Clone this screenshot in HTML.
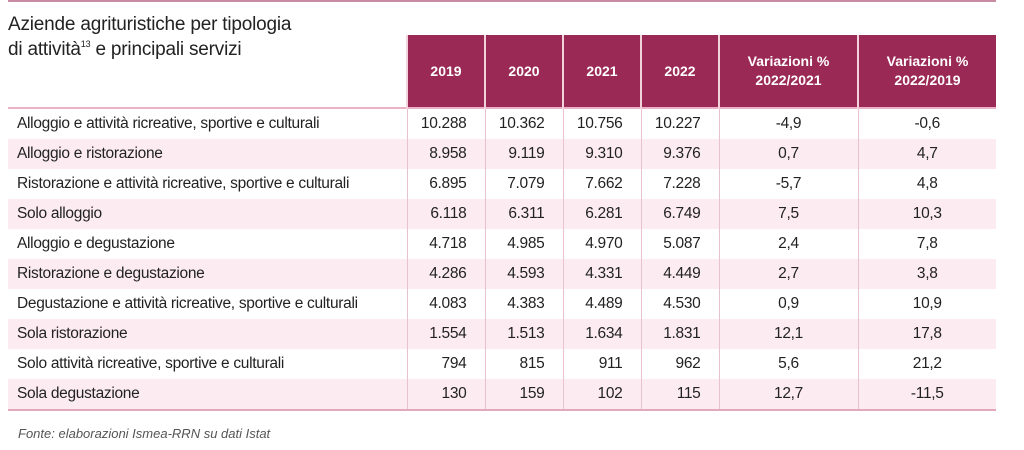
<!DOCTYPE html>
<html><head><meta charset="utf-8"><style>
body{margin:0;width:1024px;height:450px;background:#fff;font-family:"Liberation Sans",sans-serif;color:#222;position:relative;overflow:hidden}
.top{position:absolute;left:8px;top:0;width:988px;height:2px;background:#c98aa3}
.title{position:absolute;left:8px;top:12px;font-size:19px;line-height:25px;color:#222;letter-spacing:-0.2px;z-index:2}
.title sup{font-size:9px;line-height:0;vertical-align:8px}
table{position:absolute;left:8px;top:35px;border-collapse:collapse;table-layout:fixed;z-index:1}
th{background:#9b2955;color:#fff;font-weight:bold;font-size:14px;height:72px;padding:0;border-left:2px solid #f3d2dc;text-align:center;line-height:19px}
th.blank{background:transparent;border:none}
td{height:30px;padding:0;font-size:15.5px;border-left:1.5px solid #e9c2cf;text-align:right;padding-right:18px;letter-spacing:-0.3px}
td:first-child{border-left:none;text-align:left;padding-left:9px;padding-right:0;font-size:15.5px}
td.c{text-align:center;padding-right:0}
tr.s td{background:#fcecf1}
tr.h{border-bottom:2px solid #eab3c5}
tr.last{border-bottom:2px solid #e2a9bb}
.src{position:absolute;left:18px;top:426px;font-size:13px;font-style:italic;color:#555}
</style></head><body>
<div class="top"></div>
<div class="title">Aziende agrituristiche per tipologia<br>di attività<sup>13</sup> e principali servizi</div>
<table>
<colgroup><col style="width:399px"><col style="width:78px"><col style="width:78px"><col style="width:78px"><col style="width:78px"><col style="width:139px"><col style="width:138px"></colgroup>
<tr class="h"><th class="blank"></th><th>2019</th><th>2020</th><th>2021</th><th>2022</th><th>Variazioni %<br>2022/2021</th><th>Variazioni %<br>2022/2019</th></tr>
<tr><td>Alloggio e attività ricreative, sportive e culturali</td><td>10.288</td><td>10.362</td><td>10.756</td><td>10.227</td><td class="c">-4,9</td><td class="c">-0,6</td></tr>
<tr class="s"><td>Alloggio e ristorazione</td><td>8.958</td><td>9.119</td><td>9.310</td><td>9.376</td><td class="c">0,7</td><td class="c">4,7</td></tr>
<tr><td>Ristorazione e attività ricreative, sportive e culturali</td><td>6.895</td><td>7.079</td><td>7.662</td><td>7.228</td><td class="c">-5,7</td><td class="c">4,8</td></tr>
<tr class="s"><td>Solo alloggio</td><td>6.118</td><td>6.311</td><td>6.281</td><td>6.749</td><td class="c">7,5</td><td class="c">10,3</td></tr>
<tr><td>Alloggio e degustazione</td><td>4.718</td><td>4.985</td><td>4.970</td><td>5.087</td><td class="c">2,4</td><td class="c">7,8</td></tr>
<tr class="s"><td>Ristorazione e degustazione</td><td>4.286</td><td>4.593</td><td>4.331</td><td>4.449</td><td class="c">2,7</td><td class="c">3,8</td></tr>
<tr><td>Degustazione e attività ricreative, sportive e culturali</td><td>4.083</td><td>4.383</td><td>4.489</td><td>4.530</td><td class="c">0,9</td><td class="c">10,9</td></tr>
<tr class="s"><td>Sola ristorazione</td><td>1.554</td><td>1.513</td><td>1.634</td><td>1.831</td><td class="c">12,1</td><td class="c">17,8</td></tr>
<tr><td>Solo attività ricreative, sportive e culturali</td><td>794</td><td>815</td><td>911</td><td>962</td><td class="c">5,6</td><td class="c">21,2</td></tr>
<tr class="s last"><td>Sola degustazione</td><td>130</td><td>159</td><td>102</td><td>115</td><td class="c">12,7</td><td class="c">-11,5</td></tr>
</table>
<div class="src">Fonte: elaborazioni Ismea-RRN su dati Istat</div>
</body></html>
